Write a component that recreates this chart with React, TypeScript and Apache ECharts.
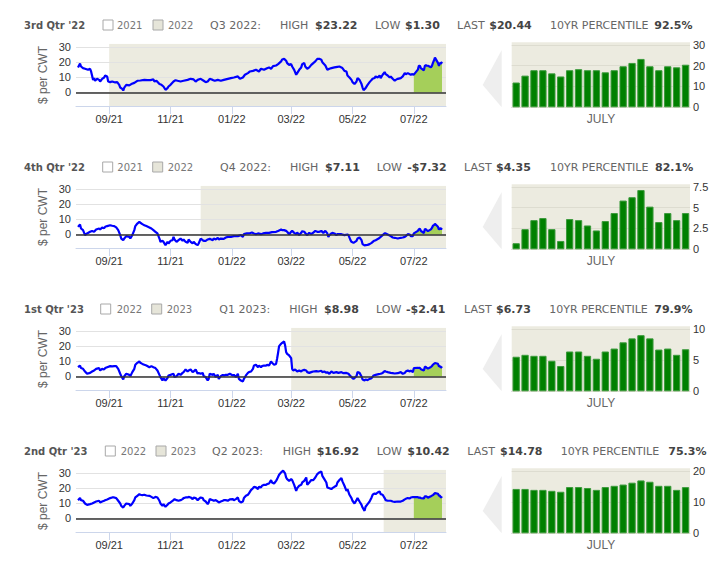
import React, { useEffect, useRef } from "react";
import * as echarts from "echarts";

const DAY = 86400000;
const BASE = Date.UTC(2021, 8, 1); // day 0 = 2021-09-01
const X_MIN = Date.UTC(2021, 6, 30);
const X_MAX = Date.UTC(2022, 7, 2);

const quarters = ["3rd Qtr '22", "4th Qtr '22", "1st Qtr '23", "2nd Qtr '23"];
const legendYears = [["2021", "2022"], ["2021", "2022"], ["2022", "2023"], ["2022", "2023"]];
const contracts = ["Q3 2022:", "Q4 2022:", "Q1 2023:", "Q2 2023:"];
const highs = ["$23.22", "$7.11", "$8.98", "$16.92"];
const lows = ["$1.30", "-$7.32", "-$2.41", "$10.42"];
const lasts = ["$20.44", "$4.35", "$6.73", "$14.78"];
const percentiles = ["92.5%", "82.1%", "79.9%", "75.3%"];
const bandStarts = ["2021-09-01", "2021-12-01", "2022-03-01", "2022-06-01"];
const monthTickDates = ["2021-09-01", "2021-11-01", "2022-01-01", "2022-03-01", "2022-05-01", "2022-07-01"];
const lineTickValues = [0, 10, 20, 30];
const barTickValues = [[0, 10, 20, 30], [0, 2.5, 5, 7.5], [0, 5, 10], [0, 10, 20]];

// July 2022 trading days (bars and green-shaded part of the lines)
const julyDays = [1, 5, 6, 7, 8, 11, 12, 13, 14, 15, 18, 19, 20, 21, 22, 25, 26, 27, 28, 29];
const bars1 = [11.9, 15.2, 17.8, 17.8, 16.3, 14.8, 17.8, 18.3, 17.8, 17.8, 16.8, 17.8, 19.7, 21.3, 23.22, 19.7, 17.8, 19.7, 19.2, 20.44];
const bars2 = [0.73, 2.42, 3.5, 3.75, 2.42, 1.0, 3.63, 3.5, 2.86, 2.26, 3.39, 4.35, 5.85, 6.25, 7.11, 5.12, 3.27, 4.35, 3.5, 4.35];
const bars3 = [5.53, 5.84, 5.68, 5.68, 4.89, 4.05, 6.37, 6.37, 5.68, 5.21, 6.37, 6.84, 7.84, 8.47, 8.98, 8.47, 6.68, 6.84, 5.84, 6.73];
const bars4 = [14.2, 14.2, 13.9, 13.9, 13.6, 13.3, 14.8, 14.8, 14.5, 13.9, 14.8, 15.2, 15.6, 16.2, 16.92, 16.5, 15.2, 15.2, 13.9, 14.78];

// [days after 2021-09-01, $ per CWT] before July 2022
const line1: [number, number][] = [[-31,16.7],[-29,19.3],[-28,17.3],[-26,16.2],[-24,15.8],[-21,15.1],[-19,15.8],[-18,14.0],[-16,8.4],[-15,9.6],[-14,7.8],[-12,9.1],[-10,8.4],[-9,7.3],[-7,9.1],[-5,10.0],[-4,11.3],[-2,10.7],[-1,7.3],[1,6.9],[3,7.3],[6,6.7],[8,6.9],[10,5.1],[11,3.3],[13,2.4],[14,1.3],[15,3.3],[17,5.1],[20,4.7],[22,5.6],[25,6.4],[28,7.8],[31,8.0],[35,8.4],[38,8.2],[41,8.2],[44,8.7],[45,7.3],[47,7.8],[50,5.6],[52,5.1],[54,4.0],[56,1.8],[58,2.9],[59,4.0],[61,5.1],[64,7.3],[66,8.2],[68,7.8],[71,7.3],[74,7.8],[78,8.4],[81,9.1],[84,8.7],[86,7.3],[88,8.4],[91,9.1],[94,7.8],[96,6.9],[98,7.3],[100,9.1],[103,8.4],[105,7.8],[108,8.4],[111,7.8],[114,8.4],[118,9.1],[121,9.6],[124,10.0],[128,10.7],[130,9.1],[133,10.0],[135,11.8],[138,12.9],[140,14.0],[143,14.4],[146,15.1],[149,14.0],[151,15.8],[154,15.1],[157,16.2],[159,16.7],[161,15.8],[163,17.6],[166,18.0],[168,18.9],[171,20.7],[172,22.0],[174,22.4],[176,21.1],[177,19.6],[179,18.4],[181,18.9],[182,17.3],[184,15.1],[186,11.8],[187,12.9],[189,15.1],[191,16.7],[192,18.9],[194,19.6],[195,17.3],[197,15.8],[199,16.7],[201,18.4],[203,19.6],[205,20.7],[207,22.4],[209,22.4],[211,21.8],[212,20.2],[215,18.0],[217,15.1],[219,15.8],[221,16.2],[224,16.7],[227,17.1],[229,17.3],[231,16.7],[232,16.2],[234,14.4],[236,14.0],[237,11.3],[239,10.0],[241,8.4],[242,6.9],[244,5.6],[246,7.3],[247,9.6],[249,8.4],[251,5.6],[252,3.3],[253,1.6],[255,2.9],[257,5.1],[259,6.9],[261,8.4],[262,9.1],[264,9.6],[265,10.7],[267,10.0],[269,11.3],[270,9.6],[272,11.8],[274,13.6],[275,12.2],[277,11.3],[279,10.0],[280,10.7],[282,9.1],[284,7.8],[285,8.4],[287,9.1],[290,9.6],[292,10.7],[294,12.9],[295,12.2],[297,12.9],[300,11.8],[301,12.2]];

const line2: [number, number][] = [[-31,5.1],[-29,6.7],[-28,4.0],[-26,2.9],[-24,-0.4],[-22,0.7],[-19,1.8],[-17,2.4],[-15,1.8],[-13,3.3],[-10,4.0],[-9,3.3],[-7,4.7],[-5,4.2],[-4,5.1],[-2,5.6],[1,6.2],[3,5.8],[5,5.6],[7,4.7],[9,2.9],[11,-0.4],[12,-2.7],[14,-3.8],[15,-2.7],[17,-1.1],[20,-1.6],[21,-2.7],[23,-0.4],[25,2.9],[26,5.6],[28,7.3],[30,8.4],[31,7.8],[33,6.9],[35,6.2],[37,5.6],[40,4.7],[42,4.0],[44,2.9],[46,1.8],[48,0.7],[50,-2.7],[51,-4.9],[53,-4.2],[54,-4.9],[56,-7.1],[58,-4.9],[59,-6.0],[61,-4.2],[63,-3.8],[64,-1.6],[65,-3.3],[67,-4.9],[69,-3.8],[71,-2.7],[73,-4.2],[74,-3.3],[76,-4.9],[78,-5.6],[79,-3.3],[81,-4.9],[83,-6.0],[84,-4.9],[86,-6.4],[88,-7.1],[89,-6.0],[91,-2.7],[93,-3.8],[94,-4.2],[96,-4.2],[98,-3.3],[100,-2.9],[103,-3.8],[104,-2.7],[106,-3.3],[108,-2.2],[109,-3.3],[111,-2.7],[114,-2.9],[116,-2.0],[118,-1.6],[121,-1.6],[124,-1.1],[126,-1.1],[128,-1.1],[131,-0.4],[133,-1.6],[134,0.2],[137,0.7],[139,0.7],[142,1.3],[144,0.7],[146,0.2],[148,0.7],[151,0.2],[153,0.7],[156,1.1],[159,1.1],[162,1.6],[166,1.8],[168,2.4],[171,3.3],[172,2.9],[174,2.9],[176,2.4],[177,1.8],[179,0.2],[181,1.8],[182,2.4],[184,1.1],[186,0.2],[187,1.3],[189,-0.4],[191,1.1],[192,2.2],[194,1.8],[196,0.2],[197,-0.4],[199,1.1],[201,0.2],[203,1.3],[205,2.4],[207,1.8],[209,1.8],[211,2.4],[213,1.1],[215,2.4],[217,0.7],[218,-1.6],[219,-0.4],[221,0.7],[222,1.1],[224,0.7],[226,-0.4],[227,0.2],[229,0.2],[231,0.2],[234,-0.4],[237,0],[238,-0.4],[240,-3.8],[241,-4.9],[243,-5.6],[246,-4.2],[247,-2.7],[249,-2.0],[251,-3.8],[252,-6.4],[254,-7.3],[255,-7.1],[257,-6.9],[259,-6.4],[261,-5.6],[263,-4.4],[265,-3.8],[268,-2.7],[270,-1.6],[272,-0.4],[274,0.7],[275,0.7],[277,0],[280,-1.1],[282,-2.0],[284,-2.2],[287,-2.7],[290,-2.2],[292,-2.0],[294,-1.6],[295,-1.1],[297,0.2],[299,0],[300,-1.1],[302,-1.1]];

const line3: [number, number][] = [[-31,6.2],[-29,7.3],[-28,5.6],[-26,5.1],[-24,3.3],[-22,1.8],[-19,2.4],[-17,3.3],[-15,4.0],[-13,5.1],[-10,5.6],[-9,4.0],[-7,5.1],[-5,4.7],[-4,5.6],[-2,6.2],[1,6.9],[3,6.7],[5,6.9],[7,6.9],[9,5.1],[11,1.8],[12,0.2],[14,-2.0],[15,0.2],[17,1.8],[20,1.1],[21,0.2],[23,2.9],[25,5.1],[26,7.8],[28,9.1],[30,10.0],[31,9.1],[33,8.4],[35,7.8],[37,7.3],[40,6.2],[42,6.9],[44,6.2],[46,5.6],[48,4.0],[50,1.1],[51,-0.4],[53,-2.7],[54,-1.1],[56,-2.7],[58,-1.1],[59,0.7],[61,1.1],[64,1.8],[65,-0.4],[67,0.2],[69,1.8],[71,1.1],[73,2.4],[74,2.9],[76,4.7],[78,3.3],[79,4.0],[81,4.7],[83,2.9],[84,3.3],[86,4.7],[88,1.8],[89,2.4],[91,1.8],[93,2.4],[94,0.2],[96,-0.4],[98,-2.7],[99,-1.6],[100,1.8],[103,1.1],[104,1.8],[106,-0.4],[108,1.1],[109,-1.6],[111,0.2],[113,1.1],[114,0.7],[116,1.1],[118,1.1],[120,1.8],[123,0.7],[124,1.1],[126,-0.4],[128,1.8],[129,-1.6],[131,-2.7],[133,-3.3],[134,-1.6],[136,0.7],[138,2.4],[139,2.9],[141,3.3],[143,5.1],[144,7.3],[146,7.8],[148,6.2],[149,7.3],[151,6.2],[152,6.9],[154,7.3],[156,7.3],[157,7.8],[159,7.3],[161,10.0],[162,9.1],[164,7.8],[166,8.4],[167,11.8],[168,15.8],[169,20.2],[171,21.8],[172,22.4],[174,23.3],[175,20.7],[176,16.2],[177,15.1],[179,14.0],[181,12.2],[182,5.1],[183,4.0],[185,4.7],[186,4.0],[187,3.3],[189,4.0],[191,3.3],[192,4.0],[194,4.4],[196,4.0],[197,2.9],[199,2.4],[201,2.9],[203,3.3],[206,3.6],[208,3.3],[211,3.8],[212,2.9],[214,3.3],[216,2.4],[217,2.9],[219,1.8],[221,3.3],[223,2.4],[226,2.9],[228,2.4],[231,2.9],[233,2.2],[236,2.4],[238,1.8],[240,0.2],[241,-0.4],[243,-1.6],[246,0.2],[247,2.9],[249,2.4],[251,0],[252,-2.0],[254,-2.6],[255,-2.0],[257,-2.4],[259,-1.6],[261,-1.1],[263,0.7],[265,1.1],[268,1.6],[270,1.8],[272,2.4],[274,3.6],[275,3.3],[277,2.9],[280,2.4],[282,2.2],[284,2.0],[287,2.2],[290,2.9],[292,1.8],[294,2.4],[295,3.3],[297,4.0],[299,3.3],[300,4.0],[302,2.9]];

const line4: [number, number][] = [[-31,12.2],[-29,13.6],[-28,12.2],[-26,11.8],[-24,10.0],[-22,9.1],[-19,9.6],[-17,10.0],[-15,10.7],[-13,11.3],[-10,11.8],[-9,10.7],[-7,11.3],[-5,11.8],[-4,12.2],[-2,12.7],[1,13.6],[3,14.0],[5,14.0],[7,13.6],[9,11.8],[11,10.0],[12,8.4],[14,7.3],[15,8.4],[17,10.0],[20,9.6],[21,8.4],[23,10.0],[25,12.2],[26,14.0],[28,15.1],[30,16.2],[31,15.8],[33,15.6],[35,15.8],[37,15.3],[40,15.1],[42,14.4],[44,13.6],[46,14.4],[48,14.0],[50,11.8],[51,10.0],[53,8.4],[54,9.6],[56,7.8],[58,9.1],[59,10.0],[61,10.7],[64,12.2],[65,12.9],[67,12.2],[69,11.8],[71,12.2],[73,12.9],[74,13.6],[76,14.0],[78,14.0],[79,14.4],[81,14.0],[83,12.9],[84,14.0],[86,13.6],[88,12.2],[89,12.9],[91,14.0],[93,13.6],[94,12.2],[96,11.3],[98,9.6],[99,10.7],[100,12.9],[103,12.2],[104,11.8],[106,12.2],[108,11.3],[109,10.7],[111,11.3],[113,11.8],[114,12.2],[116,12.2],[118,11.8],[120,12.7],[123,12.9],[124,12.2],[126,12.9],[128,14.0],[129,11.8],[131,10.7],[133,11.3],[134,13.6],[136,15.1],[138,15.8],[139,16.7],[141,18.9],[143,20.2],[144,21.1],[146,20.7],[148,19.6],[149,21.1],[151,20.7],[152,21.8],[154,22.4],[156,22.4],[157,22.9],[159,23.3],[161,25.6],[162,24.0],[164,23.3],[166,25.1],[167,26.2],[169,29.1],[171,30.7],[172,31.3],[173,31.8],[175,30.0],[176,27.3],[177,26.2],[179,25.1],[181,26.2],[182,25.6],[184,22.4],[186,18.4],[187,20.2],[189,21.8],[191,22.4],[192,24.0],[194,25.1],[196,27.3],[197,22.4],[199,24.0],[201,25.6],[203,25.6],[205,27.3],[207,29.6],[209,30.7],[211,31.3],[212,28.4],[214,26.2],[216,24.0],[217,20.7],[219,20.2],[221,19.6],[222,20.2],[224,21.1],[226,21.8],[227,24.0],[229,25.6],[231,26.9],[232,24.7],[234,21.8],[236,18.4],[237,19.6],[239,15.8],[241,13.6],[242,11.8],[244,10.0],[246,12.2],[247,13.6],[249,11.3],[251,9.1],[252,7.3],[254,5.1],[255,7.8],[257,9.6],[259,11.3],[261,14.0],[262,15.8],[264,16.7],[265,16.2],[267,17.3],[269,18.0],[270,16.2],[272,15.8],[274,13.6],[275,12.2],[277,11.8],[280,11.8],[282,11.3],[284,11.1],[287,11.3],[290,11.3],[292,11.8],[294,12.7],[295,13.1],[297,13.6],[299,13.3],[300,14.0],[302,14.2]];

const lines = [line1, line2, line3, line4];
const bars = [bars1, bars2, bars3, bars4];

const julyCategories = julyDays.map((d) => `07/${String(d).padStart(2, "0")}`);

// layout
const ROW_STEP = 142;
const LINE_LEFT = 76, LINE_TOP = 43.7, LINE_W = 370, LINE_H = 62.3;
const LINE_MIN = -9, LINE_MAX = 32.5;
const BAR_LEFT = 511.7, BAR_TOP = 42.3, BAR_W = 178.3, BAR_H = 65;
const HEADER_Y = 25;
const headerX = [
  [103, 117, 153, 168, 210, 280, 315, 375, 405, 457, 489.3, 550, 654.3],
  [102.7, 117.3, 152.7, 167.7, 220, 290, 325, 376.7, 407.3, 464, 496, 550, 655],
  [100.7, 116.7, 151.7, 166.7, 219.3, 289.3, 324, 376, 406, 464, 496, 549.3, 654.3],
  [105.3, 120.7, 156, 170.7, 212, 282.7, 316.7, 376.7, 407.3, 467.3, 500, 560.7, 668.3],
];

const FONT = "DejaVu Sans";
const AXFONT = "Liberation Sans";
const BLUE = "#0000ff";
const BAND = "#ecebe0";
const GREEN_AREA = "#a5cf5a";
const BAR_GREEN = "#008000";

const fmtMonth = (v: number) => {
  const d = new Date(v);
  return String(d.getUTCMonth() + 1).padStart(2, "0") + "/" + String(d.getUTCFullYear() % 100).padStart(2, "0");
};
const ts = (s: string) => Date.parse(s + "T00:00:00Z");

function buildOption() {
  const grid: any[] = [];
  const xAxis: any[] = [];
  const yAxis: any[] = [];
  const series: any[] = [];
  const graphics: any[] = [];
  const monthTicks = monthTickDates.map(ts);

  for (let k = 0; k < 4; k++) {
    const off = k * ROW_STEP;
    const li = 2 * k, bi = 2 * k + 1;
    grid.push({ left: LINE_LEFT, top: LINE_TOP + off, width: LINE_W, height: LINE_H, containLabel: false });
    grid.push({ left: BAR_LEFT, top: BAR_TOP + off, width: BAR_W, height: BAR_H, show: true, backgroundColor: BAND, borderWidth: 0 });

    xAxis.push({
      type: "value", gridIndex: li, min: X_MIN, max: X_MAX, scale: true,
      axisLine: { onZero: false, lineStyle: { color: "#ccd6eb", width: 1 } },
      axisTick: { show: true, customValues: monthTicks, length: 8, lineStyle: { color: "#ccd6eb" } },
      axisLabel: { customValues: monthTicks, formatter: fmtMonth, color: "#333", fontSize: 11, fontFamily: AXFONT, margin: 7, showMinLabel: true, showMaxLabel: true },
      splitLine: { show: false },
    });
    xAxis.push({
      type: "category", gridIndex: bi, data: julyCategories,
      axisLine: { lineStyle: { color: "#ccd6eb" } }, axisTick: { show: false }, axisLabel: { show: false },
    });
    yAxis.push({
      type: "value", gridIndex: li, min: LINE_MIN, max: LINE_MAX, z: 1,
      axisLabel: { customValues: lineTickValues, color: "#333", fontSize: 11, fontFamily: AXFONT, margin: 5 },
      axisTick: { show: false, customValues: lineTickValues },
      axisLine: { show: false },
      splitLine: { show: true, lineStyle: { color: "#e2e2e2", width: 1 } },
    });
    const bt = barTickValues[k];
    const bmax = bt[bt.length - 1] * 1.04;
    yAxis.push({
      type: "value", gridIndex: bi, position: "right", min: 0, max: bmax, z: 1,
      axisLabel: { customValues: bt, color: "#333", fontSize: 11, fontFamily: AXFONT, margin: 3 },
      axisTick: { show: false, customValues: bt },
      axisLine: { show: false },
      splitLine: { show: true, lineStyle: { color: "#dddcd0", width: 1 } },
    });

    const pre = lines[k].map(([d, v]) => [BASE + d * DAY, v]);
    const july = julyDays.map((d, i) => [Date.UTC(2022, 6, d), bars[k][i]]);
    // plot band
    series.push({
      type: "line", xAxisIndex: li, yAxisIndex: li, z: 0, silent: true, symbol: "none",
      data: [[ts(bandStarts[k]), LINE_MAX], [X_MAX, LINE_MAX]],
      lineStyle: { width: 0 }, areaStyle: { color: BAND, opacity: 1, origin: "start" },
    });
    // July green area
    series.push({
      type: "line", xAxisIndex: li, yAxisIndex: li, z: 2, silent: true, symbol: "none",
      data: july, lineStyle: { width: 0 }, areaStyle: { color: GREEN_AREA, opacity: 1 },
    });
    series.push({
      type: "line", xAxisIndex: li, yAxisIndex: li, z: 3, symbol: "none", showSymbol: false,
      data: pre.concat(july), lineStyle: { color: BLUE, width: 2.2 },
      markLine: {
        silent: true, symbol: "none", label: { show: false },
        lineStyle: { color: "#333", width: 1.5, type: "solid" },
        data: [{ yAxis: 0 }],
      },
    });
    series.push({
      type: "bar", xAxisIndex: bi, yAxisIndex: bi, data: bars[k], barCategoryGap: "18%",
      itemStyle: { color: BAR_GREEN, borderColor: "#3c9a3c", borderWidth: 1 },
    });

    // header
    const hx = headerX[k];
    const hy = HEADER_Y + off;
    const txt = (x: number, text: string, opts: any = {}) => ({
      type: "text", x, y: hy, silent: true,
      style: { text, fill: opts.fill || "#666", font: opts.font || `11px "${FONT}"`, verticalAlign: "middle", align: "left" },
    });
    graphics.push(txt(24, quarters[k], { font: `bold 10px "${FONT}"`, fill: "#555" }));
    graphics.push({ type: "rect", shape: { x: hx[0], y: hy - 5, width: 10, height: 10 }, style: { fill: "#ffffff", stroke: "#a8a8a8", lineWidth: 1 } });
    graphics.push(txt(hx[1], legendYears[k][0], { font: `10px "${FONT}"`, fill: "#777" }));
    graphics.push({ type: "rect", shape: { x: hx[2], y: hy - 5, width: 10, height: 10 }, style: { fill: "#e6e5d9", stroke: "#a8a8a8", lineWidth: 1 } });
    graphics.push(txt(hx[3], legendYears[k][1], { font: `10px "${FONT}"`, fill: "#777" }));
    graphics.push(txt(hx[4], contracts[k]));
    graphics.push(txt(hx[5], "HIGH"));
    graphics.push(txt(hx[6], highs[k], { font: `bold 11px "${FONT}"`, fill: "#444" }));
    graphics.push(txt(hx[7], "LOW"));
    graphics.push(txt(hx[8], lows[k], { font: `bold 11px "${FONT}"`, fill: "#444" }));
    graphics.push(txt(hx[9], "LAST"));
    graphics.push(txt(hx[10], lasts[k], { font: `bold 11px "${FONT}"`, fill: "#444" }));
    graphics.push(txt(hx[11], "10YR PERCENTILE"));
    graphics.push(txt(hx[12], percentiles[k], { font: `bold 11px "${FONT}"`, fill: "#444" }));

    // y axis title
    graphics.push({
      type: "text", x: 42.5, y: 75 + off, rotation: Math.PI / 2, silent: true,
      style: { text: "$ per CWT", fill: "#666", font: `12px "${AXFONT}"`, align: "center", verticalAlign: "middle" },
    });
    // JULY label
    graphics.push({
      type: "text", x: 601, y: 119.3 + off, silent: true,
      style: { text: "JULY", fill: "#666", font: `12px "${AXFONT}"`, align: "center", verticalAlign: "middle" },
    });
    // left arrow
    graphics.push({
      type: "polygon", silent: true,
      shape: { points: [[482.7, 85 + off], [501.7, 50 + off], [501.7, 107.3 + off]] },
      style: { fill: "#eeeeee" },
    });
  }

  return { animation: false, grid, xAxis, yAxis, series, graphic: { elements: graphics } };
}

export default function App() {
  const ref = useRef<HTMLDivElement>(null);
  useEffect(() => {
    if (!ref.current) return;
    const chart = echarts.init(ref.current, undefined, { renderer: "svg" });
    chart.setOption(buildOption() as any);
    return () => chart.dispose();
  }, []);
  return <div ref={ref} style={{ position: "absolute", left: 0, top: 0, width: 724, height: 564, background: "#fff" }} />;
}
